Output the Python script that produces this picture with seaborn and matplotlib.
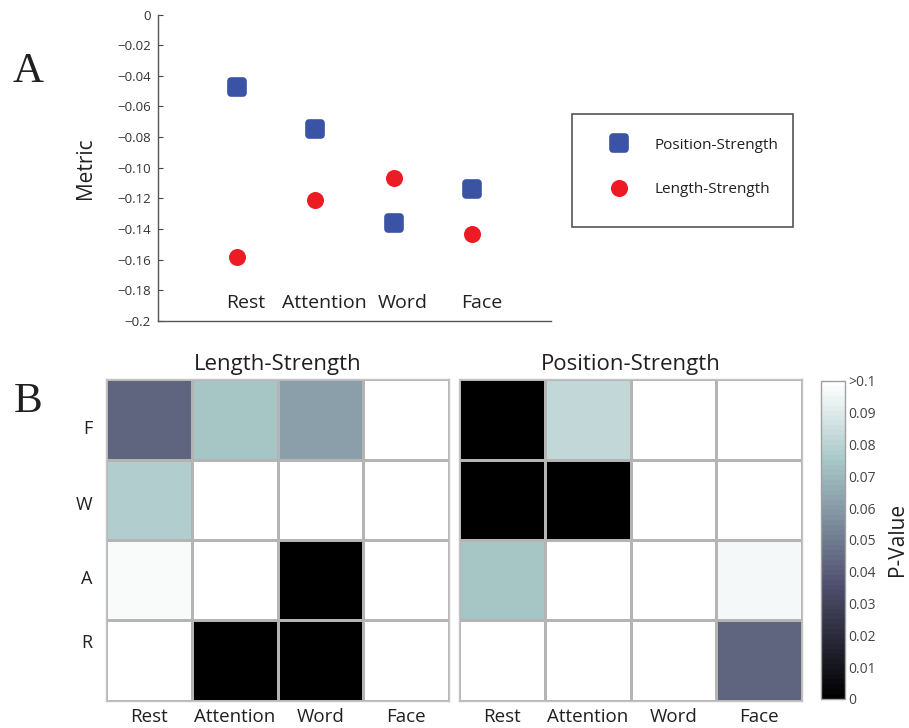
import numpy as np
import pandas as pd
import matplotlib
matplotlib.use("Agg")
import matplotlib.pyplot as plt
import matplotlib.transforms as mtransforms
import seaborn as sns
from matplotlib.lines import Line2D
from matplotlib.markers import MarkerStyle
from matplotlib.patches import Rectangle

# ---- data -------------------------------------------------------------
conditions = ["Rest", "Attention", "Word", "Face"]
position_strength = [-0.047, -0.075, -0.136, -0.114]
length_strength = [-0.158, -0.121, -0.107, -0.143]

metric_ticks = [0, -0.02, -0.04, -0.06, -0.08, -0.10, -0.12, -0.14, -0.16, -0.18, -0.2]
metric_tick_labels = ["0", "\u22120.02", "\u22120.04", "\u22120.06", "\u22120.08",
                      "\u22120.10", "\u22120.12", "\u22120.14", "\u22120.16",
                      "\u22120.18", "\u22120.2"]

row_labels = ["F", "W", "A", "R"]
# p-values (rows F, W, A, R; columns Rest, Attention, Word, Face);
# anything above 0.1 saturates to white
length_pvals = [[0.043, 0.074, 0.062, 0.20],
                [0.077, 0.20, 0.20, 0.20],
                [0.097, 0.20, 0.000, 0.20],
                [0.20, 0.000, 0.000, 0.099]]
position_pvals = [[0.000, 0.082, 0.20, 0.20],
                  [0.000, 0.000, 0.20, 0.20],
                  [0.074, 0.20, 0.20, 0.096],
                  [0.20, 0.20, 0.20, 0.043]]

pval_ticks = [0, 0.01, 0.02, 0.03, 0.04, 0.05, 0.06, 0.07, 0.08, 0.09, 0.1]
pval_tick_labels = ["0", "0.01", "0.02", "0.03", "0.04", "0.05",
                    "0.06", "0.07", "0.08", "0.09", ">0.1"]

# ---- style ------------------------------------------------------------
sns.set_theme(style="white")
plt.rcParams["font.family"] = ["Open Sans", "DejaVu Sans"]
TEXT = "#231f20"
BLUE = "#3a53a4"
RED = "#ed1c24"
GRID = "#b4b4b4"
plt.rcParams["text.color"] = TEXT

W, H = 909, 728
fig = plt.figure(figsize=(W / 100, H / 100), dpi=100)


def box(l, t, r, b):
    return [l / W, 1 - b / H, (r - l) / W, (b - t) / H]


# ---- panel A: scatter of the two metrics -------------------------------
axA = fig.add_axes(box(158, 14.5, 551, 321))
square = MarkerStyle("s", joinstyle="round")
sns.scatterplot(x=conditions, y=position_strength, marker=square, s=64,
                color=BLUE, edgecolor=BLUE, linewidth=5.5, ax=axA, zorder=3)
axA.collections[-1].set_joinstyle("round")
sns.scatterplot(x=conditions, y=length_strength, marker="o", s=150,
                color=RED, linewidth=0, ax=axA, zorder=3)

axA.set_xlim(-1, 4)
axA.set_ylim(-0.2, 0)
axA.set_yticks(metric_ticks)
axA.set_yticklabels(metric_tick_labels)
axA.tick_params(axis="y", direction="in", length=3.5, width=0.8, color="#444444",
                labelsize=9.5, labelcolor="#333333", pad=5, left=True)
axA.tick_params(axis="x", length=0, pad=-13, labelsize=14, labelcolor=TEXT)
shift = mtransforms.ScaledTranslation(9 / 100, 0, fig.dpi_scale_trans)
for lbl in axA.get_xticklabels():
    lbl.set_va("center")
    lbl.set_transform(lbl.get_transform() + shift)
axA.set_xlabel("")
axA.set_ylabel("Metric", fontsize=15, color=TEXT)
axA.yaxis.set_label_coords(-(158 - 96) / (551 - 158), 0.5)
for side in ("top", "right"):
    axA.spines[side].set_visible(False)
for side in ("left", "bottom"):
    axA.spines[side].set_color("#555555")
    axA.spines[side].set_linewidth(1.0)

# legend in its own frame
handles = [
    Line2D([], [], linestyle="", marker=square, markersize=8, markeredgewidth=5.5,
           color=BLUE),
    Line2D([], [], linestyle="", marker="o", markersize=12.3, markeredgewidth=0,
           color=RED),
]
fig.legend(handles, ["Position-Strength", "Length-Strength"], loc="upper left",
           bbox_to_anchor=(596 / W, 1 - 130 / H), frameon=False, borderpad=0,
           handlelength=2.0, handletextpad=1.3, labelspacing=1.95, fontsize=11,
           labelcolor=TEXT)
fig.add_artist(Rectangle((572 / W, 1 - 227 / H), 221 / W, 113 / H,
                         transform=fig.transFigure, fill=False,
                         edgecolor="#555555", linewidth=1.2))

# ---- panel B: p-value heatmaps ----------------------------------------
bone = plt.get_cmap("bone", 64)
axL = fig.add_axes(box(106, 379.3, 449, 700.7))
axR = fig.add_axes(box(459, 379.3, 802.3, 700.7))
cax = fig.add_axes(box(821, 380.7, 845, 699))

dfL = pd.DataFrame(length_pvals, index=row_labels, columns=conditions)
dfR = pd.DataFrame(position_pvals, index=row_labels, columns=conditions)

sns.heatmap(dfL, ax=axL, cmap=bone, vmin=0, vmax=0.1, cbar=False,
            linewidths=0.8, linecolor=GRID)
sns.heatmap(dfR, ax=axR, cmap=bone, vmin=0, vmax=0.1, cbar_ax=cax,
            cbar_kws={"ticks": pval_ticks}, linewidths=0.8, linecolor=GRID)

for ax, title in ((axL, "Length-Strength"), (axR, "Position-Strength")):
    ax.set_title(title, fontsize=16, color=TEXT, pad=7)
    ax.tick_params(axis="x", length=0, pad=5, labelsize=13.5, labelcolor=TEXT,
                   rotation=0)
    ax.set_xlabel("")
    ax.set_ylabel("")
    for sp in ax.spines.values():
        sp.set_visible(True)
        sp.set_color("#c4c4c4")
        sp.set_linewidth(1.0)

axL.set_yticks([0.62, 1.56, 2.48, 3.28])
axL.set_yticklabels(row_labels)
axL.tick_params(axis="y", length=0, pad=10, labelsize=13, labelcolor=TEXT,
                rotation=0)
axR.set_yticks([])

cbar = axR.collections[0].colorbar
cbar.set_ticks(pval_ticks)
cbar.set_ticklabels(pval_tick_labels)
cbar.outline.set_edgecolor("#a0a0a0")
cbar.outline.set_linewidth(1.0)
cax.tick_params(direction="in", length=3, width=0.8, color="#555555",
                left=True, right=True, labelsize=10, labelcolor="#444444", pad=2)
cbar.set_label("P-Value", fontsize=15, color=TEXT, labelpad=8)

# ---- panel letters ----------------------------------------------------
fig.text(28 / W, 1 - 72 / H, "A", fontsize=31, family="Liberation Serif",
         ha="center", va="center", color=TEXT)
fig.text(28 / W, 1 - 402 / H, "B", fontsize=31, family="Liberation Serif",
         ha="center", va="center", color=TEXT)

fig.savefig("out.png", dpi=100, facecolor="white")
